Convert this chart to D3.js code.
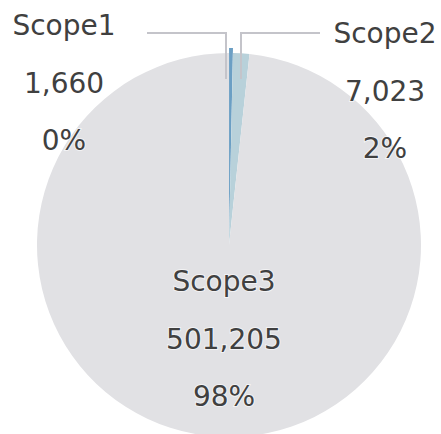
<!DOCTYPE html>
<meta charset="utf-8" />
<style>
    body { margin: 0; background: #fff; }
    text {
        font-family: "DejaVu Sans", Verdana, sans-serif;
        font-size: 28px;
        fill: #404040;
    }
</style>
<body></body>
<script src="https://d3js.org/d3.v7.min.js"></script>
<script>

    var categories = ["Scope1", "Scope2", "Scope3"];
    var values = [1660, 7023, 501205];
    var percentLabels = ["0%", "2%", "98%"];
    var colors = ["#6b9fc4", "#b8d1da", "#e1e1e4"];

    var svgWidth = 441, svgHeight = 434;
    var cx = 229, cy = 245, radius = 192;

    var svg = d3.select("body").append("svg")
        .attr("width", svgWidth)
        .attr("height", svgHeight);

    var g = svg.append("g")
        .attr("transform", "translate(" + cx + "," + cy + ")");

    var pie = d3.pie().sort(null).value(function (d) { return d; });
    var arcs = pie(values);

    var arc = d3.arc().innerRadius(0).outerRadius(radius);

    // scope1 is pulled out a little
    g.selectAll("path")
        .data(arcs)
        .enter().append("path")
        .attr("d", arc)
        .attr("fill", function (d, i) { return colors[i]; })
        .attr("transform", function (d, i) {
            if (i !== 0) return null;
            var a = (d.startAngle + d.endAngle) / 2;
            return "translate(" + (Math.sin(a) * 5) + "," + (-Math.cos(a) * 5) + ")";
        });

    // leader lines
    var leaders = [
        [[-82, -212], [-3, -212], [-3, -166]],
        [[12, -166], [12, -212], [91, -212]]
    ];
    g.selectAll("polyline")
        .data(leaders)
        .enter().append("polyline")
        .attr("points", function (d) { return d.join(" "); })
        .attr("fill", "none")
        .attr("stroke", "#c4c4ca")
        .attr("stroke-width", 2);

    // labels: name, value, percent
    var labelPos = [[64, 35], [385, 43], [224, 291]];
    var fmt = d3.format(",");
    var lbl = svg.selectAll("g.lbl")
        .data(categories)
        .enter().append("g")
        .attr("class", "lbl")
        .attr("transform", function (d, i) { return "translate(" + labelPos[i][0] + "," + labelPos[i][1] + ")"; });

    lbl.each(function (d, i) {
        var lines = [d, fmt(values[i]), percentLabels[i]];
        d3.select(this).selectAll("text")
            .data(lines)
            .enter().append("text")
            .attr("text-anchor", "middle")
            .attr("y", function (t, j) { return j * 57.5; })
            .style("paint-order", "stroke")
            .style("stroke", "rgba(255,255,255,0.6)")
            .style("stroke-width", 2)
            .text(function (t) { return t; });
    });

</script>
